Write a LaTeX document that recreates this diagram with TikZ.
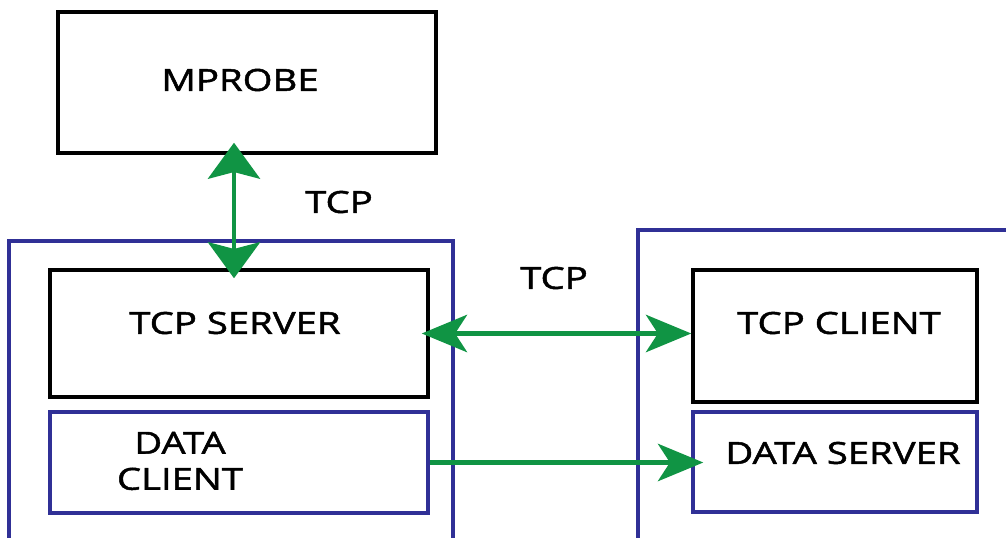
\documentclass[tikz,border=0pt]{standalone}
\usepackage{fontspec}
\setmainfont[FakeStretch=1.26,FakeBold=1.6]{Open Sans}
\usetikzlibrary{arrows.meta,calc}
\definecolor{arrgreen}{RGB}{16,148,68}
\definecolor{boxblue}{RGB}{48,48,150}
\tikzset{
  blackbox/.style={draw=black,line width=2.6pt,rectangle,inner sep=0pt},
  bluebox/.style={draw=boxblue,line width=2.6pt,rectangle,inner sep=0pt},
  outerbox/.style={draw=boxblue,line width=2.6pt,rectangle,inner sep=0pt},
  lbl/.style={font=\fontsize{22.8pt}{27pt}\selectfont,inner sep=0pt,align=center},
  vtip/.tip={Stealth[length=27pt,width=39pt,inset=5pt]},
  htip/.tip={Stealth[length=34pt,width=28pt,inset=9pt]},
  varrow/.style={draw=arrgreen,line width=3.6pt,{vtip}-{vtip},color=arrgreen},
  harrow/.style={draw=arrgreen,line width=3.4pt,{htip}-{htip},color=arrgreen},
  darrow/.style={draw=arrgreen,line width=3.4pt,-{htip},color=arrgreen}
}
\begin{document}
\begin{tikzpicture}[x=0.75pt,y=-0.75pt]
\useasboundingbox (0,0) rectangle (1006,538);
\fill[white] (0,0) rectangle (1006,538);
\clip (0,0) rectangle (1006,538);
% outer containers (open at the bottom)
\node[outerbox,minimum width=333pt,minimum height=300pt] (leftouter) at (231,441) {};
\node[outerbox,minimum width=300pt,minimum height=300pt] (rightouter) at (838,430) {};
% boxes
\node[blackbox,fill=white,minimum width=283.5pt,minimum height=105.75pt] (mprobe) at (247,82.5) {};
\node[blackbox,minimum width=283.5pt,minimum height=95.25pt] (tcpserver) at (239,333.5) {};
\node[bluebox,minimum width=283.5pt,minimum height=75.75pt] (dataclient) at (239,462.5) {};
\node[blackbox,minimum width=213pt,minimum height=99pt] (tcpclient) at (835,336) {};
\node[bluebox,minimum width=213pt,minimum height=75pt] (dataserver) at (835,462) {};
% texts
\node[lbl] (tmprobe) at (240,80) {MPROBE};
\node[lbl] (ttcpserver) at (235,323) {TCP SERVER};
\node[lbl] (tdataclient) at (180,461) {DATA\\CLIENT};
\node[lbl] (ttcpclient) at (839,323) {TCP CLIENT};
\node[lbl] (tdataserver) at (843,453) {DATA SERVER};
\node[lbl] (ttcp1) at (339,202) {TCP};
\node[lbl] (ttcp2) at (554,278) {TCP};
% connectors
\coordinate (v1) at ($(mprobe.south)+(-13,-12)$);
\coordinate (v2) at ($(tcpserver.north)+(-5,10)$);
\draw[varrow] (v1) -- (v2);
\coordinate (h1) at ($(tcpserver.east)+(-8,0)$);
\coordinate (h2) at (h1 -| tcpclient.west);
\draw[harrow] (h1) -- (h2);
\coordinate (d1) at (dataclient.east);
\coordinate (d2) at ($(d1 -| dataserver.west)+(12,0)$);
\draw[darrow] (d1) -- (d2);
\end{tikzpicture}
\end{document}
